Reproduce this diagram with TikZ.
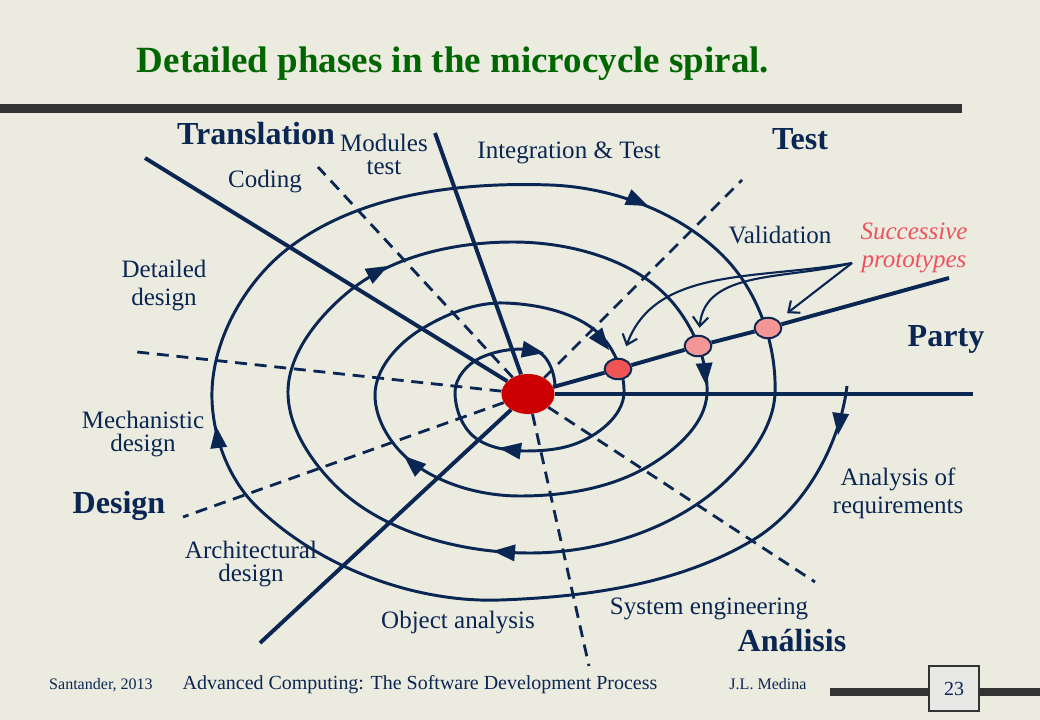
\documentclass[tikz,border=0pt]{standalone}
\usepackage{fontspec}
\setmainfont{Liberation Serif}
\usetikzlibrary{shapes.geometric,arrows.meta}

\definecolor{navy}{RGB}{10,38,82}
\definecolor{titlegreen}{RGB}{0,102,0}
\definecolor{paper}{RGB}{236,235,224}
\definecolor{bar}{RGB}{51,51,51}
\definecolor{pagebox}{RGB}{232,232,230}
\definecolor{core}{RGB}{204,0,0}
\definecolor{protoA}{RGB}{240,84,84}
\definecolor{protoB}{RGB}{244,150,150}
\definecolor{protored}{RGB}{238,82,92}

\pgfdeclarelayer{bg}
\pgfsetlayers{bg,main}

\begin{document}
\begin{tikzpicture}[x=0.025cm, y=0.025cm]
\tikzstyle{every node}+=[inner sep=0pt, text=navy]
\tikzstyle{phase text}=[font=\fontsize{17.8}{16.3}\selectfont, align=center]
\tikzstyle{region}=[font=\fontsize{22.8}{26}\selectfont\bfseries]
\tikzstyle{footer}=[font=\fontsize{14.2}{16}\selectfont]
\tikzstyle{small footer}=[font=\fontsize{11.4}{13}\selectfont]
\tikzstyle{axis line}=[navy, line width=2.8pt]
\tikzstyle{phase line}=[navy, line width=2pt, dash pattern=on 8.5pt off 5.5pt]
\tikzstyle{spiral}=[navy, line width=2.1pt, looseness=0.85]
\tikzstyle{proto dot}=[ellipse, draw=navy, line width=1.4pt, minimum width=19pt, minimum height=14.6pt]
\tikzstyle{proto arrow}=[navy, line width=1.5pt, -{Straight Barb[length=6.5pt,width=11pt]}]

\node[text=titlegreen, font=\fontsize{26.3}{30}\selectfont\bfseries] (title) at (453,-64) {Detailed phases in the microcycle spiral.};

\node[ellipse, fill=core, minimum width=37.7pt, minimum height=28.5pt] (core) at (528,-394) {};
\node[proto dot, fill=protoA] (dot1) at (618,-369) {};
\node[proto dot, fill=protoB] (dot2) at (698,-346) {};
\node[proto dot, fill=protoB] (dot3) at (768,-328) {};

\coordinate (transEnd) at (145,-158);
\coordinate (modEnd) at (435,-133);
\coordinate (partyEnd) at (973,-394);
\coordinate (protoEnd) at (949,-278);
\coordinate (lowEnd) at (260,-643);
\coordinate (codEnd) at (318,-167);
\coordinate (valEnd) at (742,-180);
\coordinate (detEnd) at (137,-352);
\coordinate (mechEnd) at (183,-517);
\coordinate (objEnd) at (589,-666);
\coordinate (sysEnd) at (815,-582);
\coordinate (fork) at (852,-263);

\begin{pgfonlayer}{bg}
\fill[paper] (0,0) rectangle (1040,-720);
\fill[bar] (0,-104) rectangle (962,-113);
\fill[bar] (830,-688) rectangle (1040,-696);

\draw[phase line] (core) -- (codEnd);
\draw[phase line] (core) -- (valEnd);
\draw[phase line] (core) -- (detEnd);
\draw[phase line] (core) -- (mechEnd);
\draw[phase line] (core) -- (objEnd);
\draw[phase line] (core) -- (sysEnd);

\draw[axis line] (core) -- (transEnd);
\draw[axis line] (core) -- (modEnd);
\draw[axis line] (core) -- (partyEnd);
\draw[axis line] (core) -- (lowEnd);
\draw[axis line] (core) -- (dot1) -- (dot2) -- (dot3) -- (protoEnd);

\draw[spiral] (847,-386) to[out=-97,in=31] (753,-540) to[out=211,in=2] (500,-600)
  to[out=182,in=316] (257,-507) to[out=136,in=272] (212,-400)
  to[out=92,in=217] (290,-247) to[out=37,in=178] (550,-185)
  to[out=-2,in=133] (727,-260) to[out=-47,in=88] (775,-393)
  to[out=-92,in=44] (727,-480) to[out=224,in=0] (530,-553)
  to[out=180,in=313] (330,-480) to[out=133,in=272] (288,-395)
  to[out=92,in=220] (347,-293) to[out=40,in=180] (513,-242)
  to[out=0,in=130] (673,-303) to[out=-50,in=88] (707,-393)
  to[out=-92,in=30] (647,-467) to[out=210,in=0] (520,-496)
  to[out=180,in=323] (413,-463) to[out=143,in=270] (375,-395)
  to[out=90,in=212] (420,-330) to[out=32,in=178] (505,-303)
  to[out=-2,in=122] (610,-347) to[out=-58,in=88] (624,-393)
  to[out=-92,in=20] (575,-444) to[out=200,in=0] (525,-451)
  to[out=180,in=313] (470,-433) to[out=133,in=270] (455,-392)
  to[out=90,in=205] (480,-358) to[out=25,in=172] (533,-350)
  to[out=-8,in=90] (555,-387);

\fill[navy] (648,-206) -- (631.4,-189.3) -- (624.4,-204.8);
\fill[navy] (216,-426) -- (210.3,-448.9) -- (227.1,-446.8);
\fill[navy] (838,-435) -- (849.1,-414.2) -- (832.2,-412.1);
\fill[navy] (493,-551) -- (514.2,-561.4) -- (515.6,-544.4);
\fill[navy] (388,-266) -- (364.6,-268.8) -- (372.6,-283.8);
\fill[navy] (706,-385) -- (712.6,-362.4) -- (695.6,-363.8);
\fill[navy] (404,-456) -- (415.0,-476.8) -- (426.2,-464.0);
\fill[navy] (609,-350) -- (602.2,-327.5) -- (588.8,-337.9);
\fill[navy] (499,-448) -- (519.6,-459.5) -- (522.0,-442.7);
\fill[navy] (544,-353) -- (523.8,-340.8) -- (520.8,-357.6);
\end{pgfonlayer}

\draw[proto arrow, shorten >=9pt] (fork) to[out=190, in=70] (dot1);
\draw[proto arrow, shorten >=5pt] (fork) to[out=195, in=85] (dot2);
\draw[proto arrow, shorten >=8pt] (fork) -- (dot3);

\node[region] (translation) at (256,-134) {Translation};
\node[region] (test) at (800,-139) {Test};
\node[region] (party) at (946,-339) {Party};
\node[region] (design) at (119,-506) {Design};
\node[region] (analisis) at (792,-641) {Análisis};

\node[phase text] (modules) at (384,-154) {Modules\\test};
\node[phase text] (coding) at (265,-182) {Coding};
\node[phase text] (integration) at (569,-153) {Integration \& Test};
\node[phase text] (validation) at (780,-235) {Validation};
\node[phase text] (detailed) at (164,-286) {Detailed\\[3.6pt]design};
\node[phase text] (mechanistic) at (143,-434) {Mechanistic\\design};
\node[phase text] (architectural) at (251,-564) {Architectural\\design};
\node[phase text] (object) at (458,-623) {Object analysis};
\node[phase text] (system) at (709,-609) {System engineering};
\node[phase text] (requirements) at (898,-493) {Analysis of\\[3.6pt]requirements};
\node[phase text, text=protored, font=\fontsize{17.8}{16.3}\selectfont\itshape] (proto) at (914,-248) {Successive\\[3.6pt]prototypes};

\node[small footer] (place) at (101,-685) {Santander, 2013};
\node[footer] (course) at (420,-685) {Advanced Computing: The Software Development Process};
\node[small footer] (author) at (768,-684) {J.L. Medina};
\node[footer, draw=bar, fill=pagebox, line width=0.8pt, minimum width=35.5pt, minimum height=32pt] (page) at (954,-688.5) {23};
\end{tikzpicture}
\end{document}
